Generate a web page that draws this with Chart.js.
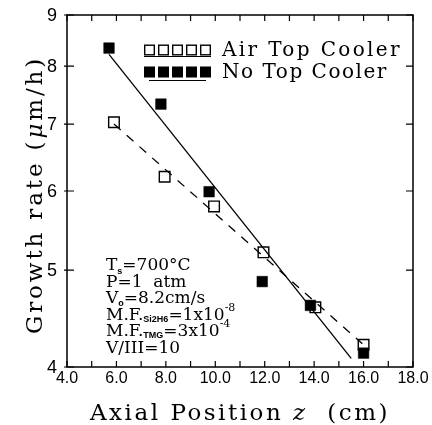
<!DOCTYPE html>
<html>
<head>
<meta charset="utf-8">
<script src="https://cdn.jsdelivr.net/npm/chart.js@4.4.1/dist/chart.umd.min.js"></script>
<style>
  html, body { margin: 0; padding: 0; background: #fff; }
  #wrap { width: 432px; height: 425px; }
</style>
</head>
<body>
<div id="wrap"><canvas id="chart" width="432" height="425"></canvas></div>
<script>
// values
const airX = [5.9, 7.95, 9.95, 11.95, 14.05, 16.0];
const airY = [7.03, 6.2, 5.79, 5.21, 4.59, 4.21];
const noX = [5.7, 7.8, 9.75, 11.9, 13.85, 16.0];
const noY = [8.34, 7.33, 5.99, 4.87, 4.61, 4.13];
const airFitX = [5.9, 15.95];
const airFitY = [7.0, 4.22];
const noFitX = [5.7, 15.5];
const noFitY = [8.22, 4.08];
const xTickValues = [4, 6, 8, 10, 12, 14, 16, 18];
const yTickValues = [4, 5, 6, 7, 8, 9];

const SERIF = '"DejaVu Serif", serif';
const SANS = '"Liberation Sans", Arial, sans-serif';

const pts = (xs, ys) => xs.map((x, i) => ({ x, y: ys[i] }));

// draw pieces of text one after another, stretched to a given width
function drawRun(ctx, parts, x, y, width) {
  const measure = () => parts.reduce((w, p) => {
    ctx.font = p.font;
    return w + ctx.measureText(p.text).width;
  }, 0);
  ctx.letterSpacing = '0px';
  const nChars = parts.reduce((n, p) => n + p.text.length, 0);
  const extra = width ? (width - measure()) / nChars : 0;
  ctx.letterSpacing = extra.toFixed(2) + 'px';
  let cx = x;
  parts.forEach((p) => {
    ctx.font = p.font;
    ctx.fillText(p.text, cx, y + (p.dy || 0));
    cx += ctx.measureText(p.text).width;
  });
  ctx.letterSpacing = '0px';
}

const decor = {
  id: 'decor',
  afterDraw(chart) {
    const { ctx, chartArea: a, scales } = chart;
    const xs = scales.x, ys = scales.y;
    ctx.save();
    ctx.strokeStyle = '#000';
    ctx.fillStyle = '#000';
    ctx.lineWidth = 1.5;
    ctx.strokeRect(a.left, a.top, a.right - a.left, a.bottom - a.top);

    // inward ticks on all four sides
    ctx.lineWidth = 1.2;
    ctx.beginPath();
    for (let v = 4; v <= 18; v++) {
      const px = xs.getPixelForValue(v);
      ctx.moveTo(px, a.bottom); ctx.lineTo(px, a.bottom - 6);
      ctx.moveTo(px, a.top); ctx.lineTo(px, a.top + 6);
    }
    yTickValues.forEach((v) => {
      const py = ys.getPixelForValue(v);
      ctx.moveTo(a.left - 3, py); ctx.lineTo(a.left + 7, py);
      ctx.moveTo(a.right, py); ctx.lineTo(a.right - 7, py);
    });
    ctx.stroke();

    // tick labels
    ctx.font = '16px ' + SANS;
    ctx.textAlign = 'center';
    ctx.textBaseline = 'middle';
    xTickValues.forEach((v) => {
      ctx.fillText(v.toFixed(1), xs.getPixelForValue(v), a.bottom + 12);
    });
    ctx.font = '18px ' + SANS;
    ctx.textAlign = 'right';
    yTickValues.forEach((v) => {
      ctx.fillText(String(v), a.left - 10, ys.getPixelForValue(v) + 1);
    });

    // axis titles
    ctx.textAlign = 'left';
    ctx.textBaseline = 'alphabetic';
    drawRun(ctx, [
      { text: 'Axial Position ', font: '23px ' + SERIF },
      { text: 'z', font: 'italic 23px ' + SERIF },
      { text: '  (cm)', font: '23px ' + SERIF },
    ], 90, 420, 300);

    ctx.save();
    ctx.translate(42, 334);
    ctx.rotate(-Math.PI / 2);
    drawRun(ctx, [
      { text: 'Growth rate (', font: '23px ' + SERIF },
      { text: '\u03bc', font: 'italic 23px ' + SERIF },
      { text: 'm/h)', font: '23px ' + SERIF },
    ], 0, 0, 278);
    ctx.restore();

    // legend
    const drawKey = (x, y, filled, label) => {
      const s = 11;
      for (let i = 0; i < 5; i++) {
        const bx = x + i * 14;
        if (filled) {
          ctx.fillRect(bx, y - s / 2, s, s);
        } else {
          ctx.lineWidth = 1.4;
          ctx.strokeRect(bx + 0.7, y - s / 2 + 0.7, s - 1.4, s - 1.4);
        }
      }
      ctx.lineWidth = 1.2;
      ctx.beginPath();
      ctx.moveTo(x + (filled ? 5 : 0), y + s / 2 + (filled ? 3 : 1));
      ctx.lineTo(x + 4 * 14 + s - (filled ? 5 : 0), y + s / 2 + (filled ? 3 : 1));
      ctx.stroke();
      ctx.textBaseline = 'middle';
      drawRun(ctx, [{ text: label, font: '20px ' + SERIF }], x + 78, y + 1, filled ? 166 : 180);
    };
    drawKey(144, 50, false, 'Air Top Cooler');
    drawKey(144, 72, true, 'No Top Cooler');

    // run conditions
    const base = '17px ' + SERIF;
    const sub = 'bold 9px ' + SANS;
    const sup = '11px ' + SERIF;
    const runs = [
      [{ text: 'T', font: base }, { text: 's', font: sub, dy: 4 }, { text: '=700\u00b0C', font: base }],
      [{ text: 'P=1  atm', font: base }],
      [{ text: 'V', font: base }, { text: 'o', font: sub, dy: 3 }, { text: '=8.2cm/s', font: base }],
      [{ text: 'M.F.', font: base }, { text: 'Si2H6', font: sub, dy: 2 }, { text: '=1x10', font: base }, { text: '-8', font: sup, dy: -9 }],
      [{ text: 'M.F.', font: base }, { text: 'TMG', font: sub, dy: 2 }, { text: '=3x10', font: base }, { text: '-4', font: sup, dy: -9 }],
      [{ text: 'V/III=10', font: base }],
    ];
    ctx.textBaseline = 'alphabetic';
    runs.forEach((parts, row) => {
      drawRun(ctx, parts, 106, 270 + row * 16.6, 0);
    });
    ctx.restore();
  }
};

new Chart(document.getElementById('chart'), {
  type: 'scatter',
  data: {
    datasets: [
      {
        label: 'No fit',
        type: 'line',
        data: pts(noFitX, noFitY),
        borderColor: '#000',
        borderWidth: 1.3,
        pointRadius: 0,
        fill: false,
      },
      {
        label: 'Air fit',
        type: 'line',
        data: pts(airFitX, airFitY),
        borderColor: '#000',
        borderWidth: 1.3,
        borderDash: [9, 8],
        pointRadius: 0,
        fill: false,
      },
      {
        label: 'No Top Cooler',
        data: pts(noX, noY),
        pointStyle: 'rect',
        pointRadius: 7.5,
        backgroundColor: '#000',
        borderColor: '#000',
        borderWidth: 0.5,
      },
      {
        label: 'Air Top Cooler',
        data: pts(airX, airY),
        pointStyle: 'rect',
        pointRadius: 7.5,
        backgroundColor: '#fff',
        borderColor: '#000',
        borderWidth: 1.4,
      },
    ],
  },
  options: {
    responsive: false,
    animation: false,
    layout: { padding: { top: 15, right: 19, left: 0, bottom: 0 } },
    plugins: { legend: { display: false }, tooltip: { enabled: false } },
    scales: {
      x: {
        type: 'linear',
        min: 4,
        max: 18,
        grid: { display: false },
        border: { display: false },
        ticks: { display: false },
        afterFit(s) { s.height = 58; },
      },
      y: {
        type: 'logarithmic',
        min: 4,
        max: 9,
        grid: { display: false },
        border: { display: false },
        ticks: { display: false },
        afterFit(s) { s.width = 67; },
      },
    },
  },
  plugins: [decor],
});
</script>
</body>
</html>
